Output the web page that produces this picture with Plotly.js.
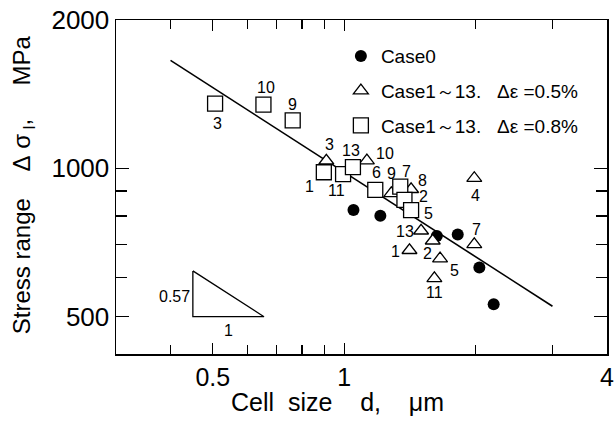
<!DOCTYPE html>
<html>
<head>
<meta charset="utf-8">
<script src="https://cdn.plot.ly/plotly-3.0.1.min.js"></script>
<style>
  html, body { margin: 0; padding: 0; background: #fff; }
  #chart { width: 616px; height: 430px; }
</style>
</head>
<body>
<div id="chart"></div>
<script>
// Case0: reference condition
const case0Cell   = [1.05, 1.21, 1.63, 1.82, 2.04, 2.20];
const case0Stress = [823, 801, 729, 734, 629, 530];

// Cases 1-13, strain range 0.5 %
const cases05  = ['3', '10', '9', '8', '4', '13', '2', '1', '7', '5', '11'];
const cell05   = [0.91, 1.127, 1.282, 1.423, 1.986, 1.50, 1.595, 1.411, 1.986, 1.658, 1.609];
const stress05 = [1036, 1037, 890, 907, 955, 747, 713, 682, 701, 656, 598];

// Cases 1-13, strain range 0.8 %
const cases08  = ['3', '10', '9', '1', '11', '13', '6', '7', '2', '5'];
const cell08   = [0.506, 0.653, 0.762, 0.898, 0.994, 1.047, 1.178, 1.344, 1.374, 1.423];
const stress08 = [1353, 1347, 1251, 982, 973, 1006, 904, 918, 863, 823];

// Fitted power law (slope -0.57 on log-log axes)
const fitCell   = [0.4, 3.0];
const fitStress = [1656, 525];
const slopeExponent = 0.57;

// Slope indicator: run along the cell-size axis starting at this corner
const slopeRun   = [0.45, 0.655];
const slopeBase  = 500;

// Axis ticks
const xTickVals  = [0.5, 1, 4];
const xMinorVals = [0.4, 0.6, 0.7, 0.8, 0.9, 2, 3];
const yTickVals  = [500, 1000, 2000];
const yMinorVals = [600, 700, 800, 900];

// Pixel offsets (dx, dy; screen down is positive) for the case-number labels
const offsets05 = [[3,-16],[18,-7],[0,-20],[11,-9],[1,17],[-16,1],[-5,13],[-14,1],[2,-15],[14,12],[0,14]];
const offsets08 = [[2,20],[3,-17],[0,-16],[-14,14],[-7,16],[-2,-17],[1,-17],[6,-15],[19,-3],[17,3]];

const FONT = 'Liberation Sans, Arial, Helvetica, sans-serif';
const NB = '\u00a0';
const sp = n => NB.repeat(n);

const slopeTop = slopeBase * Math.pow(slopeRun[1] / slopeRun[0], slopeExponent);

const traces = [
  {
    x: fitCell, y: fitStress, mode: 'lines',
    line: {color: '#000', width: 1.6},
    showlegend: false, hoverinfo: 'skip'
  },
  {
    x: [slopeRun[0], slopeRun[0], slopeRun[1], slopeRun[0]],
    y: [slopeTop, slopeBase, slopeBase, slopeTop],
    mode: 'lines', line: {color: '#000', width: 1.3},
    showlegend: false, hoverinfo: 'skip'
  },
  {
    x: case0Cell, y: case0Stress, mode: 'markers', name: 'Case0',
    legendgroup: 'a',
    marker: {symbol: 'circle', size: 12, color: '#000', line: {width: 0}}
  },
  {
    x: cell05, y: stress05, mode: 'markers',
    name: 'Case1～13.' + sp(3) + 'Δε' + sp(1) + '=0.5%',
    legendgroup: 'b',
    marker: {symbol: 'triangle-up', size: 13, color: '#fff', line: {color: '#000', width: 1.3}}
  },
  {
    x: cell08, y: stress08, mode: 'markers',
    name: 'Case1～13.' + sp(3) + 'Δε' + sp(1) + '=0.8%',
    legendgroup: 'c',
    marker: {symbol: 'square', size: 15, color: '#fff', line: {color: '#000', width: 1.3}}
  }
];

const annotations = [];
function addLabels(cases, xs, ys, offs) {
  cases.forEach((t, i) => {
    annotations.push({
      x: Math.log10(xs[i]), y: Math.log10(ys[i]), xref: 'x', yref: 'y',
      text: t, showarrow: false, xanchor: 'center', yanchor: 'middle',
      xshift: offs[i][0], yshift: -offs[i][1],
      font: {family: FONT, size: 16, color: '#000'}
    });
  });
}
addLabels(cases05, cell05, stress05, offsets05);
addLabels(cases08, cell08, stress08, offsets08);

// Slope indicator labels
annotations.push({
  x: Math.log10(slopeRun[0]), y: (Math.log10(slopeBase) + Math.log10(slopeTop)) / 2,
  xref: 'x', yref: 'y', text: String(slopeExponent), showarrow: false,
  xanchor: 'right', yanchor: 'middle', xshift: -1, yshift: -3,
  font: {family: FONT, size: 16, color: '#000'}
});
annotations.push({
  x: (Math.log10(slopeRun[0]) + Math.log10(slopeRun[1])) / 2, y: Math.log10(slopeBase),
  xref: 'x', yref: 'y', text: '1', showarrow: false,
  xanchor: 'center', yanchor: 'top', yshift: -3,
  font: {family: FONT, size: 16, color: '#000'}
});

// Axis titles
annotations.push({
  xref: 'paper', yref: 'paper', x: 0.452, y: -0.145,
  xanchor: 'center', yanchor: 'middle', showarrow: false, borderpad: 0,
  text: 'Cell' + sp(2) + 'size' + sp(4) + 'd,' + sp(4) + 'μm',
  font: {family: FONT, size: 25, color: '#000'}
});
annotations.push({
  xref: 'paper', yref: 'paper', x: -0.187, y: 0.506,
  xanchor: 'center', yanchor: 'middle', showarrow: false, textangle: -90,
  text: 'Stress' + sp(1) + 'range' + sp(4) + 'Δ' + sp(1) + 'σ<sub>' + sp(1) + 'l</sub>,' + sp(5) + 'MPa',
  font: {family: FONT, size: 24, color: '#000'}
});

const axisCommon = {
  type: 'log', showgrid: false, zeroline: false,
  showline: true, linecolor: '#000', linewidth: 1.5, mirror: 'ticks',
  ticks: 'inside', tickcolor: '#000', tickwidth: 1.3,
  tickfont: {family: FONT, size: 26, color: '#000'},
  tickmode: 'array'
};

const layout = {
  width: 616, height: 430,
  margin: {l: 116, r: 9, t: 20, b: 76, pad: 0},
  paper_bgcolor: '#fff', plot_bgcolor: '#fff',
  font: {family: FONT, color: '#000'},
  xaxis: Object.assign({}, axisCommon, {
    range: [Math.log10(0.3), Math.log10(4)],
    tickvals: xTickVals, ticktext: xTickVals.map(String), ticklen: 11,
    tickfont: {family: FONT, size: 25, color: '#000'},
    minor: {tickmode: 'array', tickvals: xMinorVals, ticks: 'inside', ticklen: 9,
            tickwidth: 1.3, tickcolor: '#000', showgrid: false}
  }),
  yaxis: Object.assign({}, axisCommon, {
    range: [Math.log10(420), Math.log10(2000)],
    tickvals: yTickVals, ticktext: yTickVals.map(String), ticklen: 13,
    minor: {tickmode: 'array', tickvals: yMinorVals, ticks: 'inside', ticklen: 11,
            tickwidth: 1.3, tickcolor: '#000', showgrid: false}
  }),
  legend: {
    x: 0.458, y: 0.949, xanchor: 'left', yanchor: 'top',
    font: {family: FONT, size: 19, color: '#000'},
    bgcolor: 'rgba(0,0,0,0)', borderwidth: 0, tracegroupgap: 7
  },
  annotations: annotations,
  showlegend: true
};

Plotly.newPlot('chart', traces, layout, {staticPlot: true, displayModeBar: false});
</script>
</body>
</html>
